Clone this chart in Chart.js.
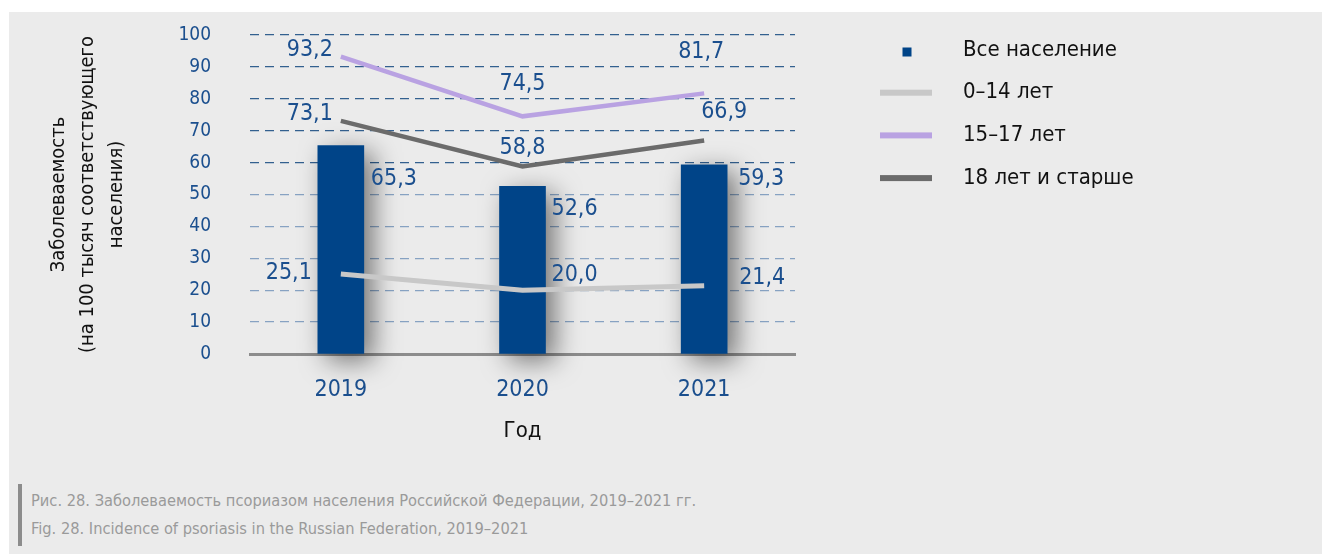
<!DOCTYPE html>
<html lang="ru">
<head>
<meta charset="UTF-8">
<title>Заболеваемость псориазом</title>
<script src="https://cdn.jsdelivr.net/npm/chart.js"></script>
<style>
    body { margin: 0; background: #fff; font-family: 'Liberation Sans Narrow', 'DejaVu Sans Condensed', 'Liberation Sans', sans-serif; }
    #panel { position: absolute; left: 9px; top: 12px; width: 1313px; height: 542px; background: #ebebeb; }
    #chart { position: absolute; left: 9px; top: 12px; }
    #caption { position: absolute; left: 18px; top: 484px; padding: 3px 0 3px 9px; border-left: 4px solid #8c8c8c;
               color: #9a9a9a; font-size: 16.3px; line-height: 28px; }
</style>
</head>
<body>
<div id="panel"></div>
<canvas id="chart" width="1313" height="440"></canvas>
<div id="caption">
    <div>Рис. 28. Заболеваемость псориазом населения Российской Федерации, 2019–2021 гг.</div>
    <div>Fig. 28. Incidence of psoriasis in the Russian Federation, 2019–2021</div>
</div>
<script>
    // data
    const years = ['2019', '2020', '2021'];
    const allPopulation = [65.3, 52.6, 59.3];
    const age0to14 = [25.1, 20.0, 21.4];
    const age15to17 = [93.2, 74.5, 81.7];
    const age18plus = [73.1, 58.8, 66.9];
    const yTicks = [0, 10, 20, 30, 40, 50, 60, 70, 80, 90, 100];

    const FONT = "'Liberation Sans Narrow', 'DejaVu Sans Condensed', 'Liberation Sans', sans-serif";
    const BLUE_TEXT = '#1b4f8e';
    Chart.defaults.font.family = FONT;

    // label placement per dataset / point: [dx, dy, align]
    const labelPlacement = [
        [[30, 33, 'left'], [29, 23, 'left'], [34, 14, 'left']],
        [[-29, -1, 'right'], [29, -15, 'left'], [35, -8, 'left']],
        [[-8, -7, 'right'], [0, -32, 'center'], [-3, -41, 'center']],
        [[-8, -7, 'right'], [0, -18, 'center'], [-3, -29, 'left']]
    ];

    const barShadow = {
        id: 'barShadow',
        beforeDatasetDraw(chart, args) {
            if (args.index !== 0) return;
            const c = chart.ctx;
            c.save();
            c.shadowColor = 'rgba(0,0,0,0.5)';
            c.shadowBlur = 26;
            c.shadowOffsetX = 9;
            c.shadowOffsetY = 7;
        },
        afterDatasetDraw(chart, args) {
            if (args.index === 0) chart.ctx.restore();
        }
    };

    const valueLabels = {
        id: 'valueLabels',
        afterDatasetsDraw(chart) {
            const c = chart.ctx;
            c.save();
            c.font = '23px ' + FONT;
            c.fillStyle = BLUE_TEXT;
            c.textBaseline = 'middle';
            chart.data.datasets.forEach((ds, i) => {
                chart.getDatasetMeta(i).data.forEach((el, j) => {
                    const [dx, dy, align] = labelPlacement[i][j];
                    c.textAlign = align;
                    c.fillText(ds.data[j].toFixed(1).replace('.', ','), el.x + dx, el.y + dy);
                });
            });
            c.restore();
        }
    };

    const sideLegend = {
        id: 'sideLegend',
        afterDraw(chart) {
            const c = chart.ctx;
            c.save();
            c.font = '22px ' + FONT;
            c.textBaseline = 'middle';
            c.textAlign = 'left';
            chart.data.datasets.forEach((ds, i) => {
                const y = 38 + i * 42.7;
                if (ds.type === 'bar') {
                    c.fillStyle = ds.backgroundColor;
                    c.fillRect(893.5, y - 2.5, 9, 9);
                } else {
                    c.fillStyle = ds.borderColor;
                    c.fillRect(871, y - 3, 52, 6);
                }
                c.fillStyle = '#111';
                c.fillText(ds.label, 954, y);
            });
            c.restore();
        }
    };

    new Chart(document.getElementById('chart'), {
        data: {
            labels: years,
            datasets: [
                { type: 'bar', label: 'Все население', data: allPopulation, backgroundColor: '#004488',
                  barThickness: 46, order: 1, clip: false },
                { type: 'line', label: '0–14 лет', data: age0to14, borderColor: '#c8c8c8', borderWidth: 5,
                  pointRadius: 0, tension: 0, order: 0 },
                { type: 'line', label: '15–17 лет', data: age15to17, borderColor: '#b9a2e2', borderWidth: 4.5,
                  pointRadius: 0, tension: 0, order: 0 },
                { type: 'line', label: '18 лет и старше', data: age18plus, borderColor: '#6b6b6b', borderWidth: 4.5,
                  pointRadius: 0, tension: 0, order: 0 }
            ]
        },
        options: {
            responsive: false,
            animation: false,
            devicePixelRatio: 1,
            layout: { padding: { left: 0, top: 23, right: 527, bottom: 0 } },
            plugins: { legend: { display: false }, tooltip: { enabled: false } },
            scales: {
                x: {
                    grid: { display: false },
                    border: { color: '#8c8c8c', width: 3 },
                    ticks: { color: BLUE_TEXT, font: { size: 23 }, padding: 14 },
                    title: { display: true, text: 'Год', color: '#111', font: { size: 22 }, padding: { top: 0, bottom: 8 } },
                    afterFit(s) { s.height = 98; }
                },
                y: {
                    min: 0, max: 100,
                    afterBuildTicks(s) { s.ticks = yTicks.map(v => ({ value: v })); },
                    grid: {
                        drawTicks: true,
                        tickLength: 39,
                        tickColor: 'rgba(0,0,0,0)',
                        lineWidth: 1.3,
                        color: c => c.tick.value === 0 ? 'rgba(0,0,0,0)' : (c.tick.value >= 60 ? '#33608f' : '#87a2c2')
                    },
                    border: { display: false, dash: [9, 6] },
                    ticks: { color: BLUE_TEXT, font: { size: 19 }, padding: 0 },
                    title: {
                        display: true,
                        text: ['Заболеваемость', '(на 100 тысяч соответствующего', 'населения)'],
                        color: '#111', font: { size: 20, lineHeight: 1.45 }, padding: { top: 35.5, bottom: 0 }
                    },
                    afterFit(s) { s.width = 241; }
                }
            }
        },
        plugins: [barShadow, valueLabels, sideLegend]
    });
</script>
</body>
</html>
